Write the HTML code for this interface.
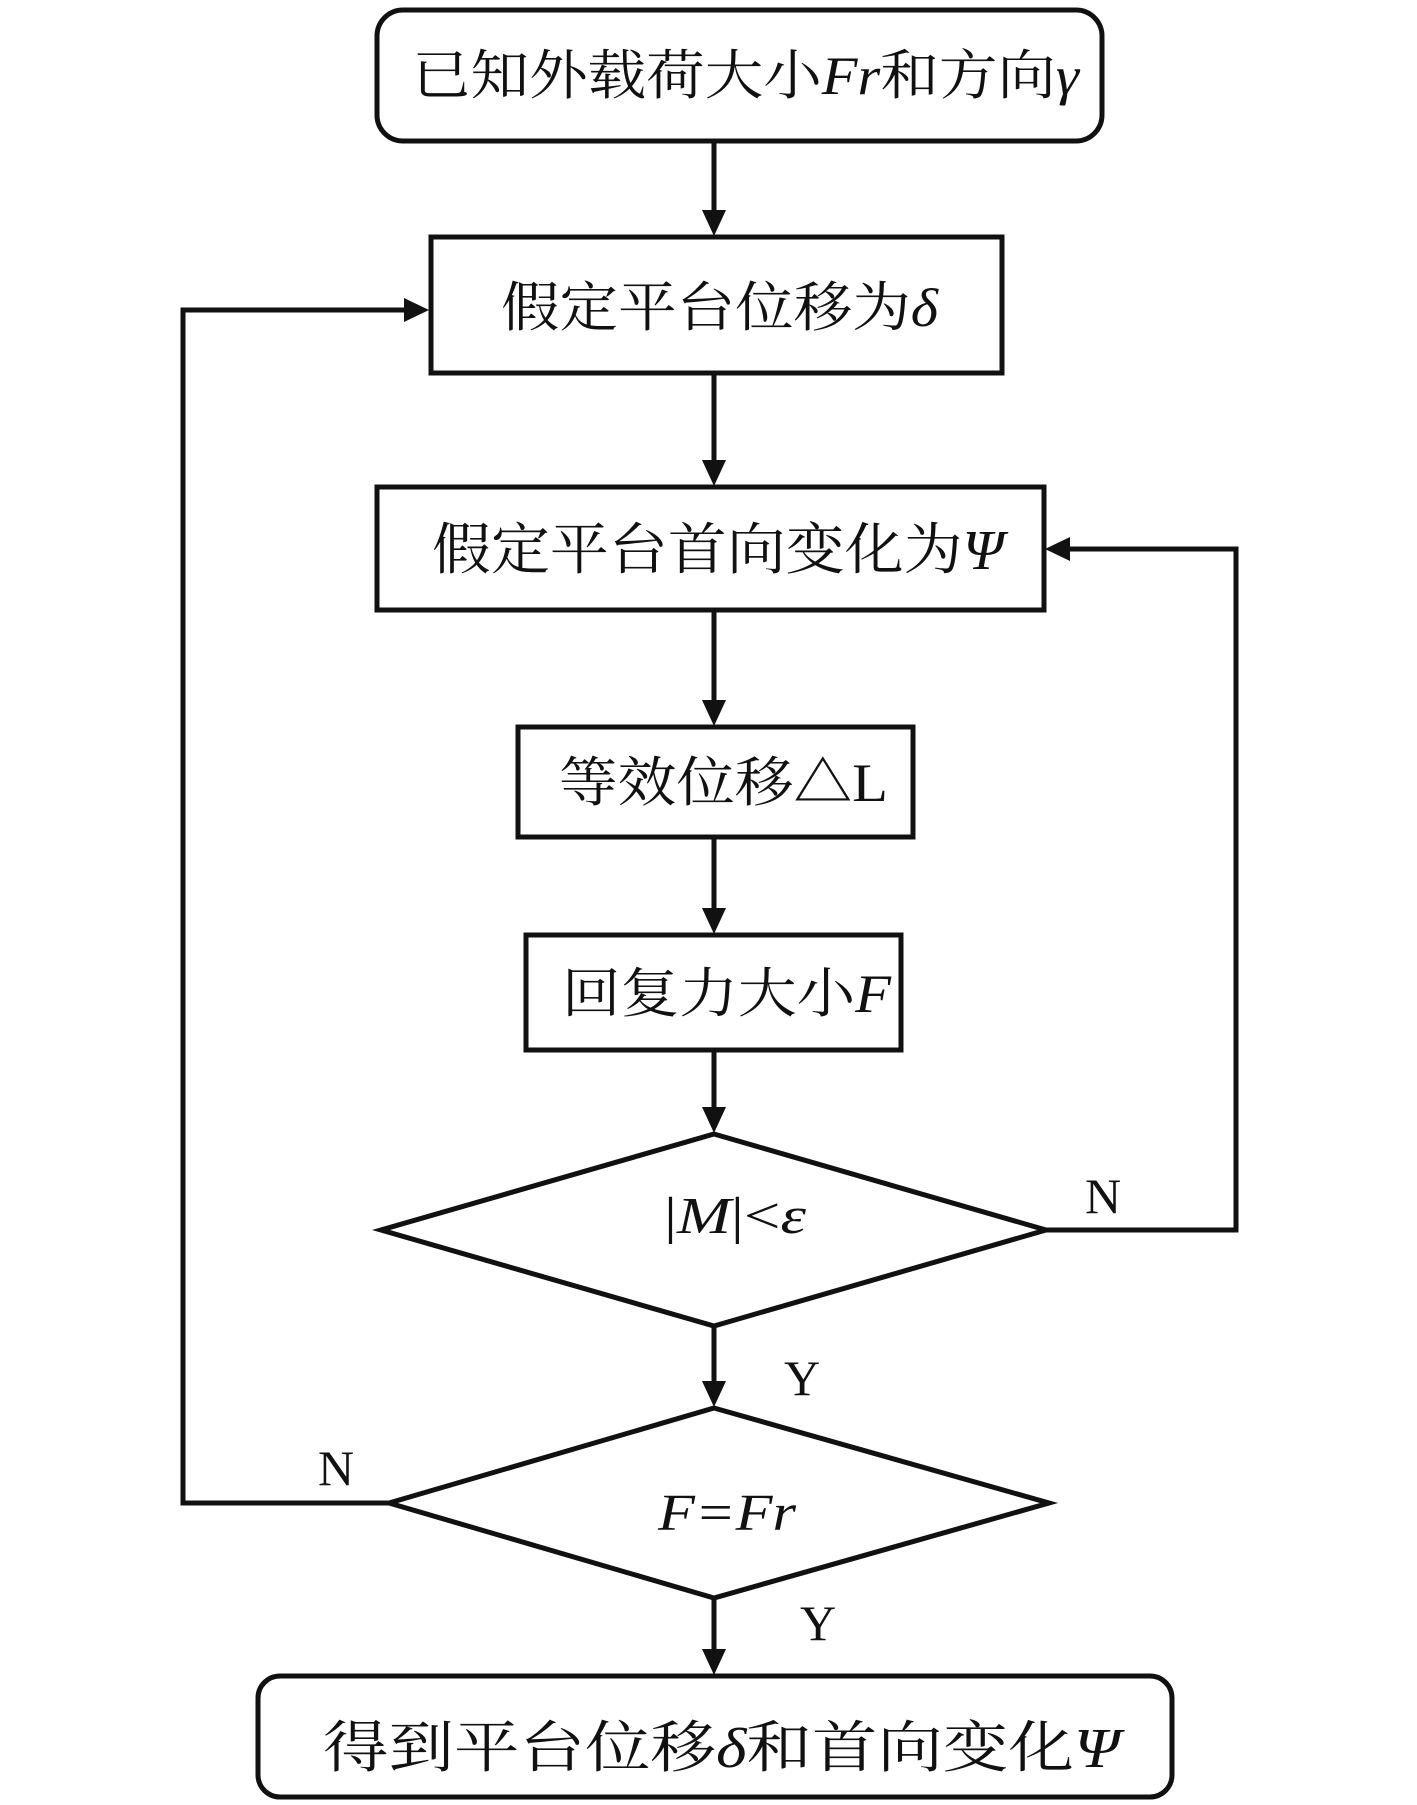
<!DOCTYPE html>
<html><head><meta charset="utf-8"><style>
html,body{margin:0;padding:0;background:#fff;}
svg{display:block;}
text{font-family:"Liberation Serif","Noto Serif CJK SC",serif;fill:#111;}
</style></head><body>
<svg width="1417" height="1805" viewBox="0 0 1417 1805" xmlns="http://www.w3.org/2000/svg">
<defs>
<marker id="a" markerWidth="8" markerHeight="8" refX="7" refY="4" orient="auto" markerUnits="userSpaceOnUse" viewBox="0 0 8 8">
</marker>
</defs>
<g fill="none" stroke="#111" stroke-width="5">
<rect x="377" y="10" width="725" height="131" rx="26"/>
<rect x="431" y="237" width="571" height="136"/>
<rect x="377" y="487" width="667" height="123"/>
<rect x="518" y="727" width="395" height="110"/>
<rect x="526" y="935" width="375" height="115"/>
<polygon points="714,1134 1046,1230 714,1326 381,1230"/>
<polygon points="714,1408 1049,1503 714,1598 389,1503"/>
<rect x="258" y="1676" width="914" height="121" rx="22"/>
<!-- vertical connectors -->
<line x1="714" y1="141" x2="714" y2="212"/>
<line x1="714" y1="373" x2="714" y2="462"/>
<line x1="714" y1="610" x2="714" y2="702"/>
<line x1="714" y1="837" x2="714" y2="910"/>
<line x1="714" y1="1050" x2="714" y2="1109"/>
<line x1="714" y1="1326" x2="714" y2="1383"/>
<line x1="714" y1="1598" x2="714" y2="1651"/>
<!-- loops -->
<polyline points="1046,1230 1236,1230 1236,549 1068,549"/>
<polyline points="389,1503 183,1503 183,310 406,310"/>
</g>
<g fill="#111">
<polygon points="702,210 726,210 714,236"/>
<polygon points="702,460 726,460 714,486"/>
<polygon points="702,700 726,700 714,726"/>
<polygon points="702,908 726,908 714,934"/>
<polygon points="702,1107 726,1107 714,1133"/>
<polygon points="702,1381 726,1381 714,1407"/>
<polygon points="702,1649 726,1649 714,1675"/>
<polygon points="1070,537 1070,561 1045,549"/>
<polygon points="404,298 404,322 429,310"/>
</g>
<text x="412" y="94" font-size="54" textLength="667" lengthAdjust="spacingAndGlyphs">已知外载荷大小<tspan font-style="italic">Fr</tspan>和方向<tspan font-style="italic">γ</tspan></text>
<text x="501" y="326" font-size="54" textLength="437" lengthAdjust="spacingAndGlyphs">假定平台位移为<tspan font-style="italic">δ</tspan></text>
<text x="432" y="569" font-size="56" textLength="572" lengthAdjust="spacingAndGlyphs">假定平台首向变化为<tspan font-style="italic">Ψ</tspan></text>
<text x="559" y="801" font-size="54" textLength="329" lengthAdjust="spacingAndGlyphs">等效位移△L</text>
<text x="562" y="1012" font-size="54" textLength="329" lengthAdjust="spacingAndGlyphs">回复力大小<tspan font-style="italic">F</tspan></text>
<text x="664" y="1233" font-size="52" textLength="142" lengthAdjust="spacingAndGlyphs">|<tspan font-style="italic">M</tspan>|&lt;<tspan font-style="italic">ε</tspan></text>
<text x="658" y="1530" font-size="52" textLength="138" lengthAdjust="spacingAndGlyphs" font-style="italic">F=Fr</text>
<text x="323" y="1767" font-size="56" textLength="797" lengthAdjust="spacingAndGlyphs">得到平台位移<tspan font-style="italic">δ</tspan>和首向变化<tspan font-style="italic">Ψ</tspan></text>
<text x="1085" y="1213" font-size="50">N</text>
<text x="784" y="1395" font-size="50">Y</text>
<text x="318" y="1485" font-size="50">N</text>
<text x="800" y="1640" font-size="50">Y</text>
</svg>
</body></html>
